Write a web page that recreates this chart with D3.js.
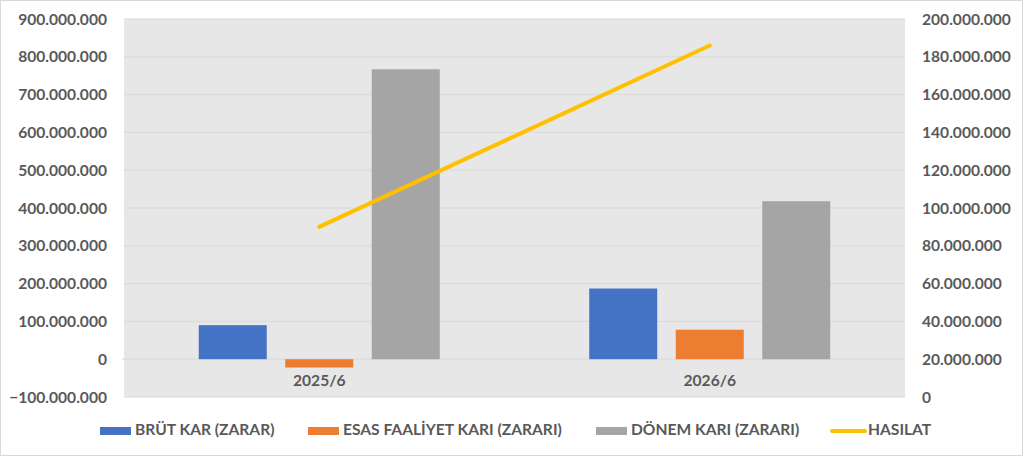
<!DOCTYPE html>
<html>
<head>
<meta charset="utf-8">
<script src="https://cdn.jsdelivr.net/npm/d3@7"></script>
<style>
  body { margin: 0; background: #fff; }
  svg text { font-family: Lato, "Open Sans", sans-serif; font-weight: bold; fill: #595959; }
</style>
</head>
<body>
<div id="chart"></div>
<script>
// data
const periods = ["2025/6", "2026/6"];
const seriesNames = ["BRÜT KAR (ZARAR)", "ESAS FAALİYET KARI (ZARARI)", "DÖNEM KARI (ZARARI)"];
const brutKar = [90000000, 187000000];
const esasFaaliyet = [-22000000, 78000000];
const donemKari = [767000000, 418000000];
const hasilat = [90000000, 186000000];
const leftTicks = [-100000000, 0, 100000000, 200000000, 300000000, 400000000, 500000000, 600000000, 700000000, 800000000, 900000000];
const rightTicks = [0, 20000000, 40000000, 60000000, 80000000, 100000000, 120000000, 140000000, 160000000, 180000000, 200000000];
const colors = ["#4472C4", "#ED7D31", "#A5A5A5"];
const lineColor = "#FFC000";

const width = 1024, height = 457;
const plot = { left: 124, right: 905, top: 19, bottom: 397 };
const fontSize = "15.6px";

// tr number format: 100.000.000
const fmt = v => d3.format(",")(v).replace(/,/g, ".");

const svg = d3.select("#chart").append("svg")
    .attr("width", width)
    .attr("height", height);

// outer border
svg.append("rect")
    .attr("x", 0.5).attr("y", 0.5)
    .attr("width", 1022).attr("height", 455)
    .attr("fill", "#fff")
    .attr("stroke", "#D9D9D9");

// plot background
svg.append("rect")
    .attr("x", plot.left).attr("y", plot.top)
    .attr("width", plot.right - plot.left)
    .attr("height", plot.bottom - plot.top)
    .attr("fill", "#E7E7E7");

const x = d3.scaleBand().domain(periods).range([plot.left, plot.right]);
const inner = d3.scaleBand().domain(seriesNames).range([-120.5, 120.5]).paddingInner(0.214);

const yLeft = d3.scaleLinear().domain([-100000000, 900000000]).range([plot.bottom, plot.top]);
const yRight = d3.scaleLinear().domain([0, 200000000]).range([plot.bottom, plot.top]);

// gridlines
svg.append("g")
    .selectAll("line")
    .data(leftTicks)
    .join("line")
    .attr("x1", d => d === 0 ? plot.left - 2 : plot.left)
    .attr("x2", plot.right)
    .attr("y1", d => yLeft(d))
    .attr("y2", d => yLeft(d))
    .attr("stroke", "#D9D9D9")
    .attr("stroke-width", 1);

// left axis
const leftAxis = svg.append("g")
    .attr("transform", `translate(${plot.left},0)`)
    .call(d3.axisLeft(yLeft).tickValues(leftTicks).tickFormat(fmt).tickSize(0).tickPadding(17));
leftAxis.select(".domain").remove();
leftAxis.selectAll("text").style("font-size", fontSize).attr("fill", "#595959");

// right axis
const rightAxis = svg.append("g")
    .attr("transform", `translate(${plot.right},0)`)
    .call(d3.axisRight(yRight).tickValues(rightTicks).tickFormat(fmt).tickSize(0).tickPadding(17));
rightAxis.select(".domain").remove();
rightAxis.selectAll("text").style("font-size", fontSize).attr("fill", "#595959");

// category labels
svg.append("g")
    .selectAll("text")
    .data(periods)
    .join("text")
    .attr("x", d => x(d) + x.bandwidth() / 2)
    .attr("y", 382)
    .attr("text-anchor", "middle")
    .attr("dominant-baseline", "middle")
    .style("font-size", fontSize)
    .text(d => d);

// bars
const seriesData = [brutKar, esasFaaliyet, donemKari];
seriesData.forEach((vals, si) => {
    svg.append("g")
        .selectAll("rect")
        .data(vals)
        .join("rect")
        .attr("x", (d, i) => x(periods[i]) + x.bandwidth() / 2 + inner(seriesNames[si]))
        .attr("width", inner.bandwidth())
        .attr("y", d => yLeft(Math.max(0, d)))
        .attr("height", d => Math.abs(yLeft(d) - yLeft(0)))
        .attr("fill", colors[si]);
});

// hasilat line (right axis)
const line = d3.line()
    .x((d, i) => x(periods[i]) + x.bandwidth() / 2)
    .y(d => yRight(d));

svg.append("path")
    .datum(hasilat)
    .attr("d", line)
    .attr("fill", "none")
    .attr("stroke", lineColor)
    .attr("stroke-width", 4)
    .attr("stroke-linecap", "round");

// legend
const legendY = 431;
const legendX = [100, 308, 596, 832];
const legendItems = seriesNames.map((n, i) => ({ name: n, color: colors[i], type: "bar" }))
    .concat([{ name: "HASILAT", color: lineColor, type: "line" }]);

const lg = svg.append("g")
    .selectAll("g")
    .data(legendItems)
    .join("g")
    .attr("transform", (d, i) => `translate(${legendX[i]},${legendY})`);

lg.filter(d => d.type === "bar").append("rect")
    .attr("x", 0).attr("y", -4)
    .attr("width", 31).attr("height", 8)
    .attr("fill", d => d.color);

lg.filter(d => d.type === "line").append("line")
    .attr("x1", 0).attr("x2", 33)
    .attr("y1", 0).attr("y2", 0)
    .attr("stroke", d => d.color)
    .attr("stroke-width", 4)
    .attr("stroke-linecap", "round");

lg.append("text")
    .attr("x", d => d.type === "line" ? 36 : 35)
    .attr("y", 0)
    .attr("dominant-baseline", "middle")
    .style("font-size", fontSize)
    .text(d => d.name);
</script>
</body>
</html>
